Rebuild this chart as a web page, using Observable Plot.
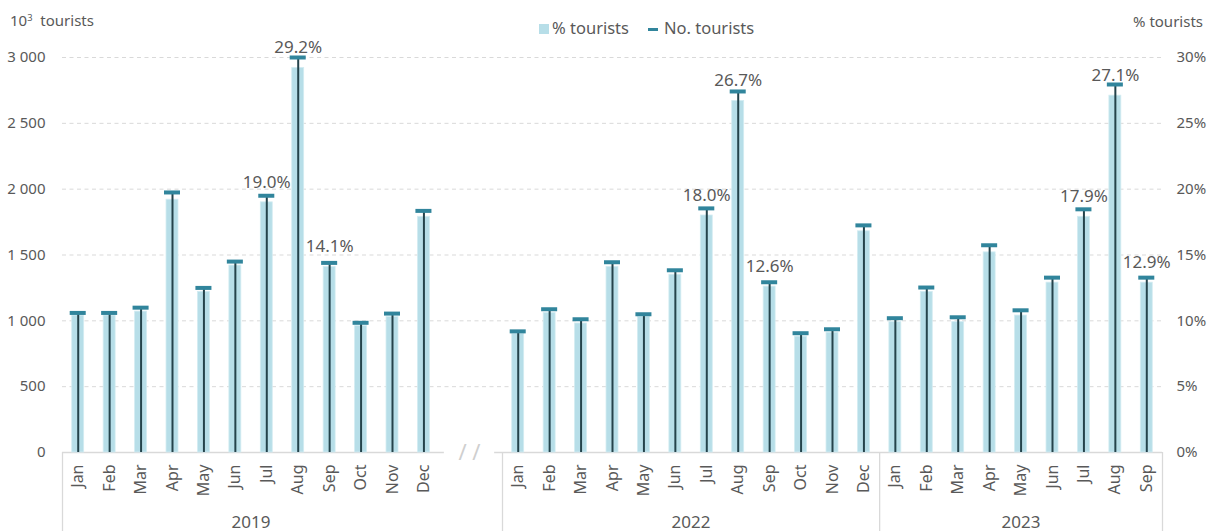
<!DOCTYPE html>
<html>
<head>
<meta charset="utf-8">
<script src="https://cdn.jsdelivr.net/npm/d3@7"></script>
<script src="https://cdn.jsdelivr.net/npm/@observablehq/plot@0.6"></script>
<style>
  html, body { margin: 0; padding: 0; background: #fff; }
  #wrap { position: relative; width: 1211px; height: 531px; overflow: hidden; font-family: "Noto Sans", sans-serif; color: #595959; }
  #wrap svg { position: absolute; left: 0; top: 0; }
  .lbl { position: absolute; line-height: 1; white-space: nowrap; }
  .lbl sup { font-size: 0.62em; vertical-align: 0.55em; line-height: 0; }
</style>
</head>
<body>
<div id="wrap">
  <div class="lbl" style="left:10px; top:12.7px; font-size:15px;">10<sup>3</sup>&nbsp; tourists</div>
  <div class="lbl" style="right:8px; top:13.7px; font-size:15px;">% tourists</div>
  <div style="position:absolute; left:539px; top:24px; width:10px; height:10px; background:#b7dee8;"></div>
  <div class="lbl" style="left:552px; top:20.3px; font-size:16.5px;">% tourists</div>
  <div style="position:absolute; left:648px; top:28px; width:10px; height:3px; background:#31859c;"></div>
  <div class="lbl" style="left:664px; top:20.3px; font-size:16.5px;">No. tourists</div>
</div>
<script>
// ---- data ----
const years = ["2019", "2022", "2023"];
const months2019 = ["Jan","Feb","Mar","Apr","May","Jun","Jul","Aug","Sep","Oct","Nov","Dec"];
const months2022 = ["Jan","Feb","Mar","Apr","May","Jun","Jul","Aug","Sep","Oct","Nov","Dec"];
const months2023 = ["Jan","Feb","Mar","Apr","May","Jun","Jul","Aug","Sep"];
// No. tourists (thousands)
const tourists2019 = [1060, 1060, 1100, 1975, 1250, 1450, 1950, 3000, 1440, 985, 1055, 1835];
const tourists2022 = [920, 1088, 1012, 1445, 1050, 1384, 1854, 2742, 1293, 906, 936, 1725];
const tourists2023 = [1020, 1253, 1027, 1574, 1080, 1328, 1847, 2795, 1328];
// % tourists
const pct2019 = [10.4, 10.4, 10.7, 19.2, 12.2, 14.2, 19.0, 29.2, 14.1, 9.6, 10.3, 17.9];
const pct2022 = [9.0, 10.6, 9.8, 14.1, 10.3, 13.5, 18.0, 26.7, 12.6, 8.8, 9.1, 16.8];
const pct2023 = [9.9, 12.2, 9.9, 15.2, 10.4, 12.9, 17.9, 27.1, 12.9];
const labelledMonths = ["Jul", "Aug", "Sep"];
const leftTicks = [0, 500, 1000, 1500, 2000, 2500, 3000];
const rightTicks = [0, 5, 10, 15, 20, 25, 30];

// ---- build table ----
const groups = [
  {year: years[0], months: months2019, tourists: tourists2019, pct: pct2019},
  {year: years[1], months: months2022, tourists: tourists2022, pct: pct2022},
  {year: years[2], months: months2023, tourists: tourists2023, pct: pct2023}
];
const GAP = 2; // empty slots for the axis break between 2019 and 2022
const rows = [];
const groupSpans = [];
let idx = 0;
groups.forEach((g, gi) => {
  if (gi === 1) idx += GAP;
  const start = idx;
  g.months.forEach((m, j) => {
    rows.push({year: g.year, month: m, i: idx, tourists: g.tourists[j], pct: g.pct[j]});
    idx++;
  });
  groupSpans.push({year: g.year, a: start - 0.5, b: idx - 0.5});
});
const nSlots = idx;
const ratio = 3000 / 30; // 30% aligned with 3 000
const boundaries = [groupSpans[0].a, groupSpans[1].a, groupSpans[2].a, groupSpans[2].b];
const breakPos = groupSpans[0].b + GAP / 2 - 0.05;

const fmt = d3.formatLocale({thousands: " ", grouping: [3], decimal: ".", currency: ["", ""]}).format(",");
const grey = "#595959";

const chart = Plot.plot({
  width: 1211,
  height: 531,
  marginTop: 57,
  marginBottom: 79,
  marginLeft: 62,
  marginRight: 49,
  style: {fontFamily: "'Noto Sans', sans-serif", fontSize: "15px", color: grey, background: "transparent", overflow: "visible"},
  x: {type: "linear", domain: [-0.5, nSlots - 0.5], axis: null, label: null},
  y: {type: "linear", domain: [0, 3000], axis: null, label: null},
  marks: [
    Plot.gridY(leftTicks.filter(d => d > 0), {stroke: "#d9d9d9", strokeOpacity: 1, strokeWidth: 1, strokeDasharray: "4,3.5"}),
    // baseline with break
    Plot.ruleY([0], {x1: groupSpans[0].a, x2: groupSpans[0].b + 0.15, stroke: "#d9d9d9", strokeWidth: 1.3}),
    Plot.ruleY([0], {x1: groupSpans[1].a - 0.25, x2: groupSpans[2].b, stroke: "#d9d9d9", strokeWidth: 1.3}),
    // group separators
    Plot.ruleX(boundaries, {x: d => d, y1: 0, y2: -600, stroke: "#d9d9d9", strokeWidth: 1.3}),
    Plot.text(["/ /"], {x: breakPos, y: 0, text: d => d, fill: "#cfcfcf", fontSize: 22, lineAnchor: "middle"}),
    // % tourists bars
    Plot.rectY(rows, {x1: d => d.i - 0.19, x2: d => d.i + 0.19, y1: 0, y2: d => d.pct * ratio, fill: "#b7dee8", stroke: "#d3ecf2", strokeWidth: 0.8}),
    // No. tourists drop lines + markers
    Plot.ruleX(rows, {x: "i", y1: 0, y2: "tourists", stroke: "#24434b", strokeWidth: 2}),
    Plot.ruleY(rows, {y: "tourists", x1: d => d.i - 0.255, x2: d => d.i + 0.255, stroke: "#31859c", strokeWidth: 4}),
    // labels
    Plot.text(rows.filter(d => labelledMonths.includes(d.month)), {
      x: "i", y: d => d.pct * ratio, text: d => d.pct.toFixed(1) + "%",
      dy: -20, lineAnchor: "middle", fontSize: 17, fill: grey
    }),
    // month labels
    Plot.text(rows, {x: "i", y: 0, text: "month", rotate: -90, textAnchor: "end", lineAnchor: "middle", dy: 12, fontSize: 16, fill: grey}),
    // year labels
    Plot.text(groupSpans, {x: d => (d.a + d.b) / 2, y: 0, text: "year", dy: 75, lineAnchor: "bottom", fontSize: 17, fill: grey}),
    // axes
    Plot.axisY({anchor: "left", label: null, ticks: leftTicks, tickSize: 0, tickPadding: 17, tickFormat: fmt, fontSize: 15, fill: grey}),
    Plot.axisY({anchor: "right", label: null, ticks: rightTicks.map(d => d * ratio), tickSize: 0, tickPadding: 14, tickFormat: d => (d / ratio) + "%", fontSize: 15, fill: grey})
  ]
});
document.getElementById("wrap").prepend(chart);
</script>
</body>
</html>
